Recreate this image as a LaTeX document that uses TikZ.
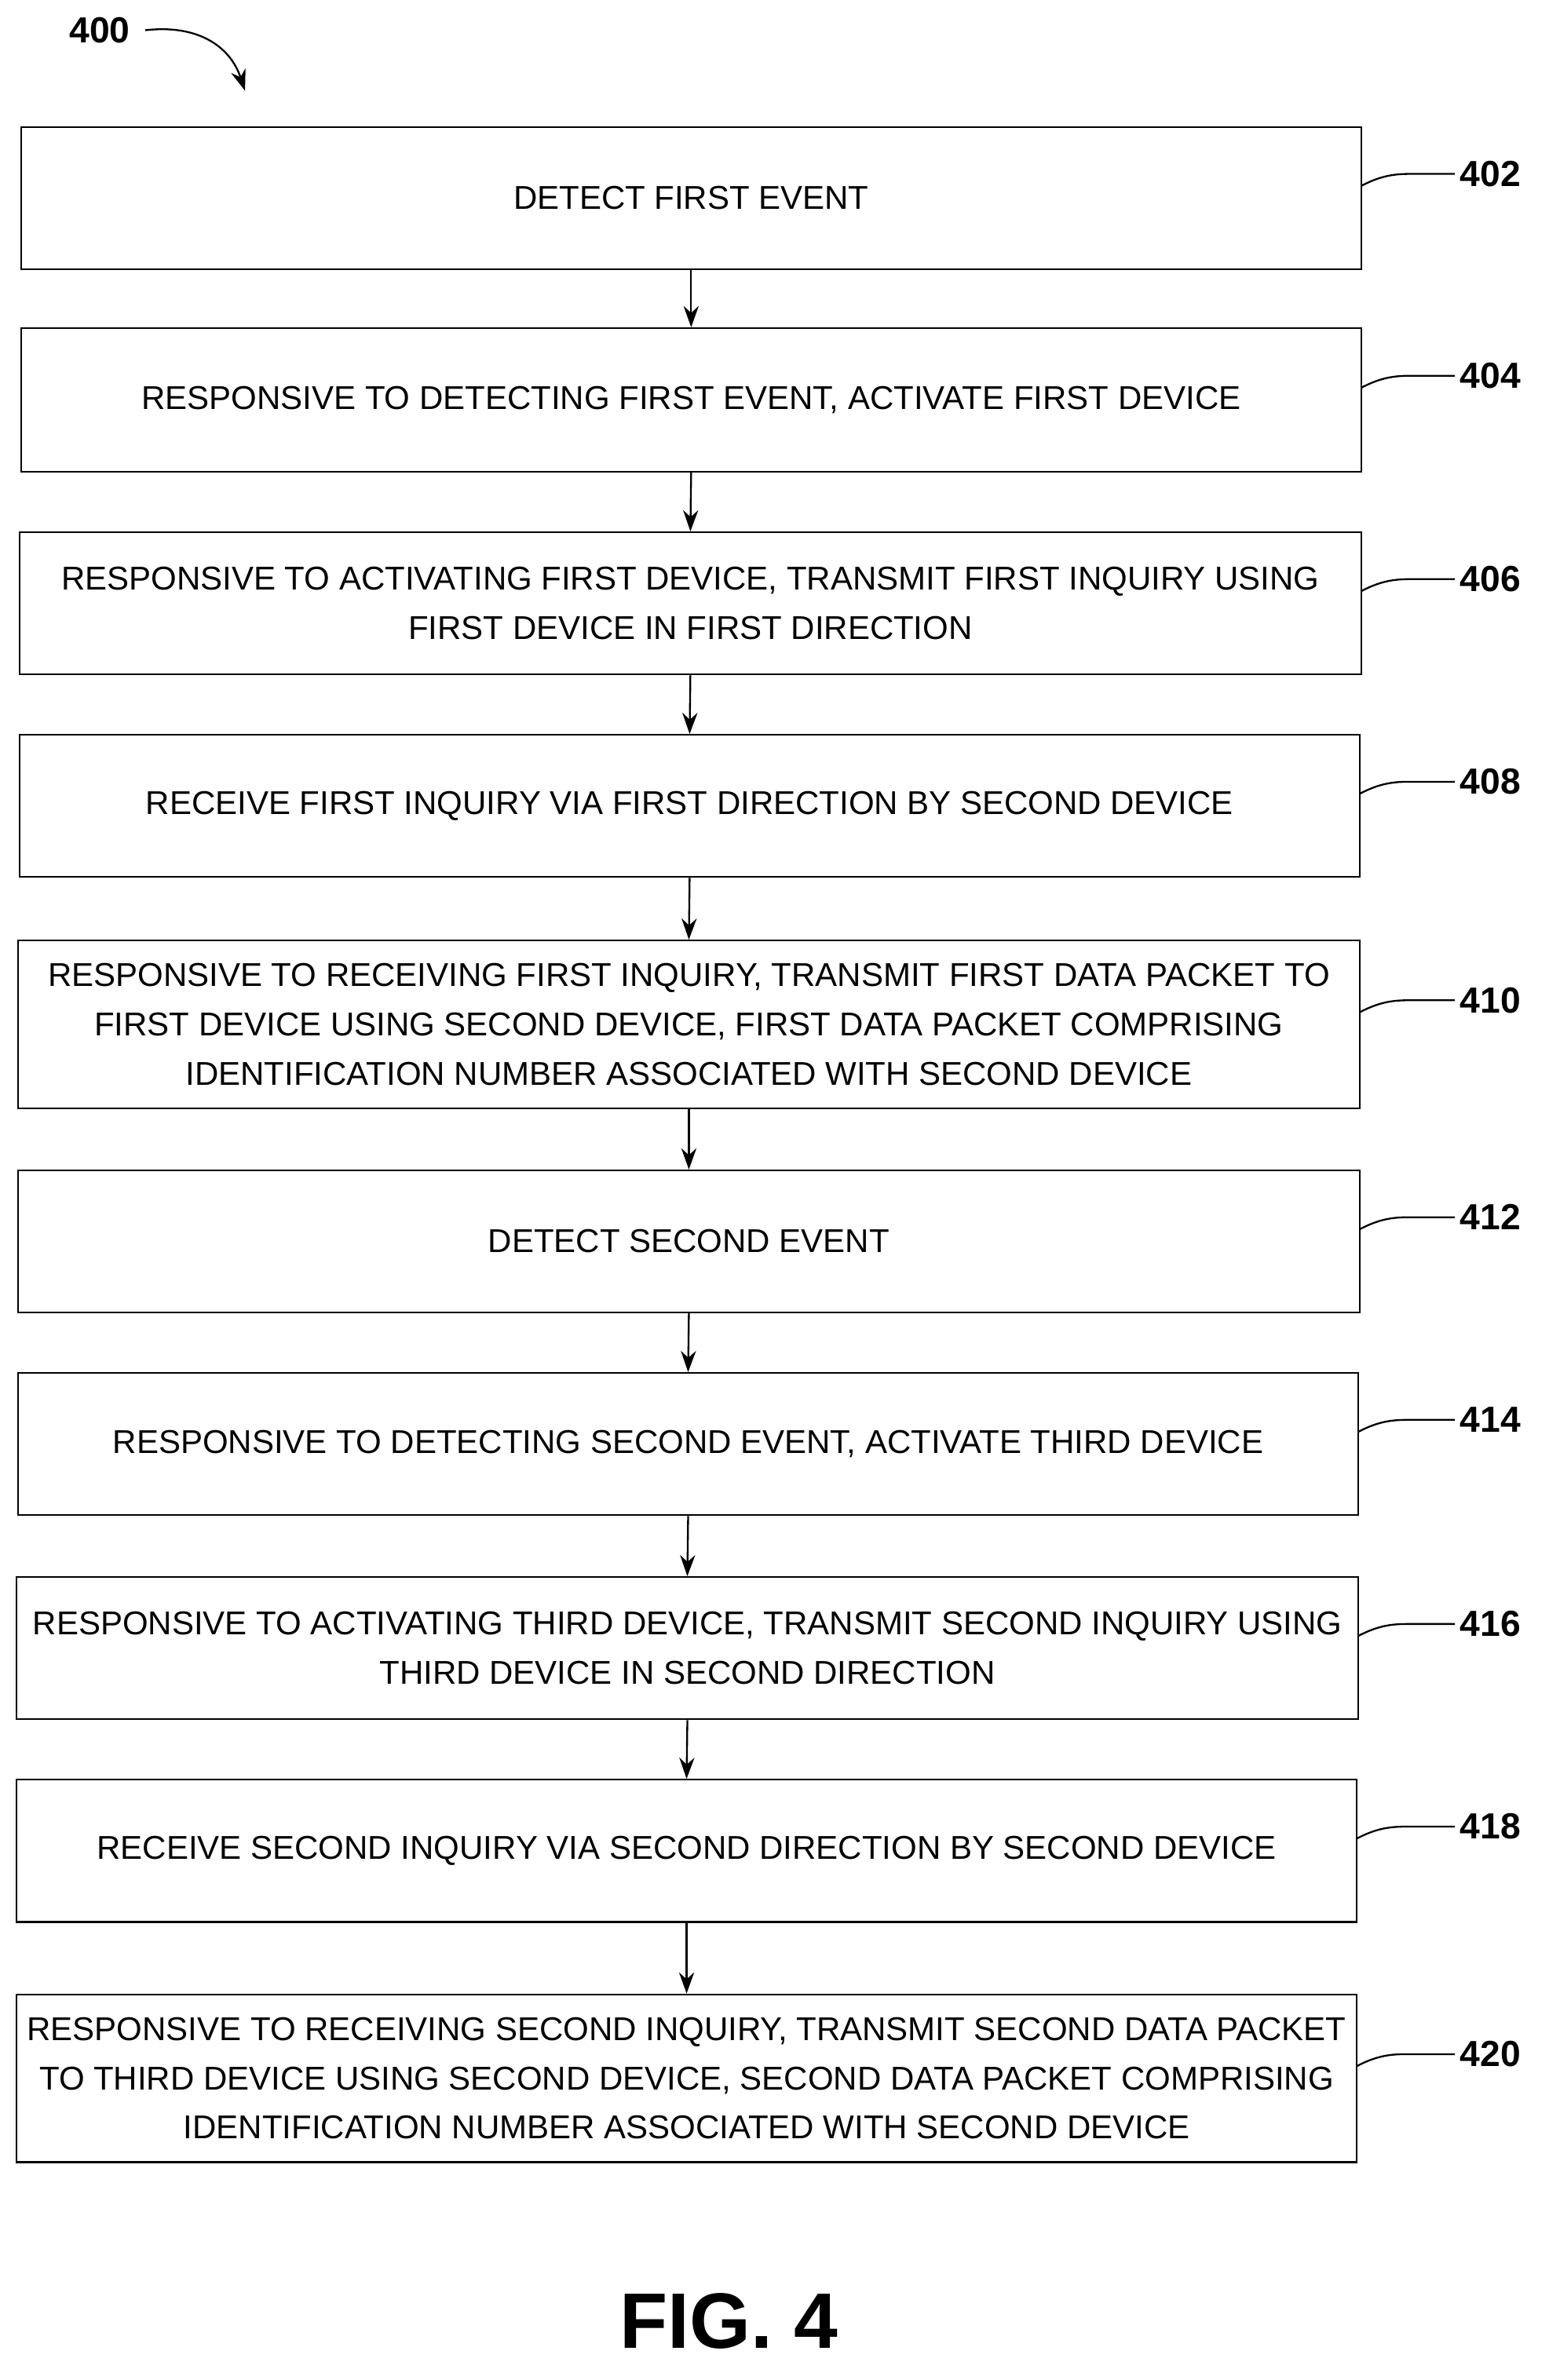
\documentclass[tikz,border=0pt]{standalone}
\usepackage{fontspec}
\setmainfont{Liberation Sans}
\usetikzlibrary{arrows.meta}
\begin{document}
\begin{tikzpicture}[x=1pt,y=-1pt,
  box/.style={draw,line width=1.2pt,minimum height=94pt,align=center,font=\fontsize{21.8}{32.5}\selectfont,inner sep=0pt},
  lbl/.style={font=\bfseries\fontsize{24}{28}\selectfont,anchor=west},
  arr/.style={-{Stealth[length=14pt,width=10pt]},line width=1.2pt},
  lead/.style={line width=1.2pt}]
\useasboundingbox (0,0) rectangle (1024,1574);
\node[font=\bfseries\fontsize{24}{28}\selectfont] (n400) at (66,20) {400};
\draw[arr] (96,20) .. controls (130,16) and (152,30) .. (162,60);
\def\B#1#2#3#4#5#6{%
  \node[box,minimum width=#3-#2,minimum height=#5-#4] (b#1) at ({(#2+#3)/2},{(#4+#5)/2}) {#6};
  \node[lbl] (l#1) at (962,{(#4+#5)/2-16}) {#1};
  \draw[lead] (#3,{(#4+#5)/2-8}) .. controls ({#3+15},{(#4+#5)/2-16}) and ({#3+25},{(#4+#5)/2-16}) .. ({#3+35},{(#4+#5)/2-16}) -- (l#1.west);}
\B{402}{14}{900}{84}{178}{DETECT FIRST EVENT}
\B{404}{14}{900}{217}{312}{RESPONSIVE TO DETECTING FIRST EVENT, ACTIVATE FIRST DEVICE}
\B{406}{13}{900}{352}{446}{RESPONSIVE TO ACTIVATING FIRST DEVICE, TRANSMIT FIRST INQUIRY USING\\FIRST DEVICE IN FIRST DIRECTION}
\B{408}{13}{899}{486}{580}{RECEIVE FIRST INQUIRY VIA FIRST DIRECTION BY SECOND DEVICE}
\B{410}{12}{899}{622}{733}{RESPONSIVE TO RECEIVING FIRST INQUIRY, TRANSMIT FIRST DATA PACKET TO\\FIRST DEVICE USING SECOND DEVICE, FIRST DATA PACKET COMPRISING\\IDENTIFICATION NUMBER ASSOCIATED WITH SECOND DEVICE}
\B{412}{12}{899}{774}{868}{DETECT SECOND EVENT}
\B{414}{12}{898}{908}{1002}{RESPONSIVE TO DETECTING SECOND EVENT, ACTIVATE THIRD DEVICE}
\B{416}{11}{898}{1043}{1137}{RESPONSIVE TO ACTIVATING THIRD DEVICE, TRANSMIT SECOND INQUIRY USING\\THIRD DEVICE IN SECOND DIRECTION}
\B{418}{11}{897}{1177}{1271}{RECEIVE SECOND INQUIRY VIA SECOND DIRECTION BY SECOND DEVICE}
\B{420}{11}{897}{1319}{1430}{RESPONSIVE TO RECEIVING SECOND INQUIRY, TRANSMIT SECOND DATA PACKET\\TO THIRD DEVICE USING SECOND DEVICE, SECOND DATA PACKET COMPRISING\\IDENTIFICATION NUMBER ASSOCIATED WITH SECOND DEVICE}
\foreach \a/\b in {402/404,404/406,406/408,408/410,410/412,412/414,414/416,416/418,418/420}
  \draw[arr] (b\a.south) -- (b\b.north);
\node[font=\bfseries\fontsize{52}{58}\selectfont] (fig) at (482,1535) {FIG. 4};
\end{tikzpicture}
\end{document}
